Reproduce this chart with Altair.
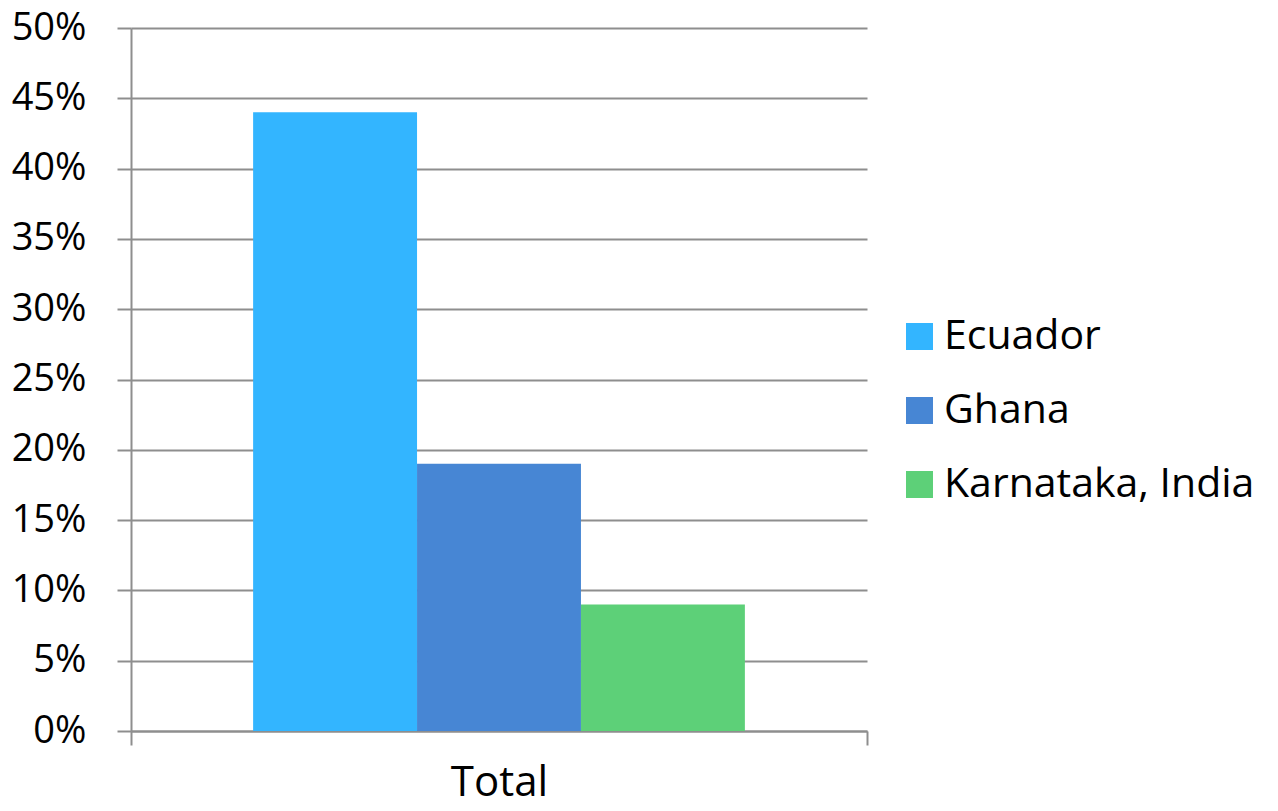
import altair as alt
import pandas as pd

categories = ["Total", "Total", "Total"]
countries = ["Ecuador", "Ghana", "Karnataka, India"]
values = [0.44, 0.19, 0.09]
colors = ["#33B5FF", "#4786D4", "#5DD078"]
y_ticks = [0, 0.05, 0.10, 0.15, 0.20, 0.25, 0.30, 0.35, 0.40, 0.45, 0.50]

df = pd.DataFrame({"category": categories, "country": countries, "value": values})

FONT = "Open Sans"
GRID = "#8e8e8e"

chart = alt.Chart(df).mark_bar().encode(
    x=alt.X("category:N", title=None,
            scale=alt.Scale(paddingInner=0, paddingOuter=0),
            axis=alt.Axis(labelAngle=0, tickBand="extent", domainColor=GRID, tickColor=GRID,
                          domainWidth=2, tickWidth=2, tickSize=14, labelPadding=17,
                          labelFontSize=42, labelFont=FONT, labelColor="#000000", grid=False)),
    xOffset=alt.XOffset("country:N", sort=countries,
                        scale=alt.Scale(paddingInner=0, paddingOuter=0.745)),
    y=alt.Y("value:Q", title=None,
            scale=alt.Scale(domain=[0, 0.5], nice=False),
            axis=alt.Axis(values=y_ticks, format=".0%", grid=True, gridColor=GRID, gridWidth=2,
                          domainColor=GRID, domainWidth=2, tickColor=GRID, tickWidth=2,
                          tickSize=14, labelPadding=31, labelFontSize=38, labelFont=FONT,
                          labelColor="#000000")),
    color=alt.Color("country:N", sort=countries,
                    scale=alt.Scale(domain=countries, range=colors),
                    legend=alt.Legend(title=None, orient="none", legendX=768, legendY=288,
                                      symbolType="square", symbolSize=729, symbolStrokeWidth=0,
                                      labelFontSize=41, labelFont=FONT, labelColor="#000000",
                                      labelOffset=4, rowPadding=32, labelLimit=400)),
).properties(
    width=736, height=703,
    autosize=alt.AutoSizeParams(type="none"),
    padding={"left": 123, "top": 20, "right": 403, "bottom": 72},
).configure_view(stroke=None)

chart.save("out.html", embed_options={"renderer": "svg", "actions": False})
